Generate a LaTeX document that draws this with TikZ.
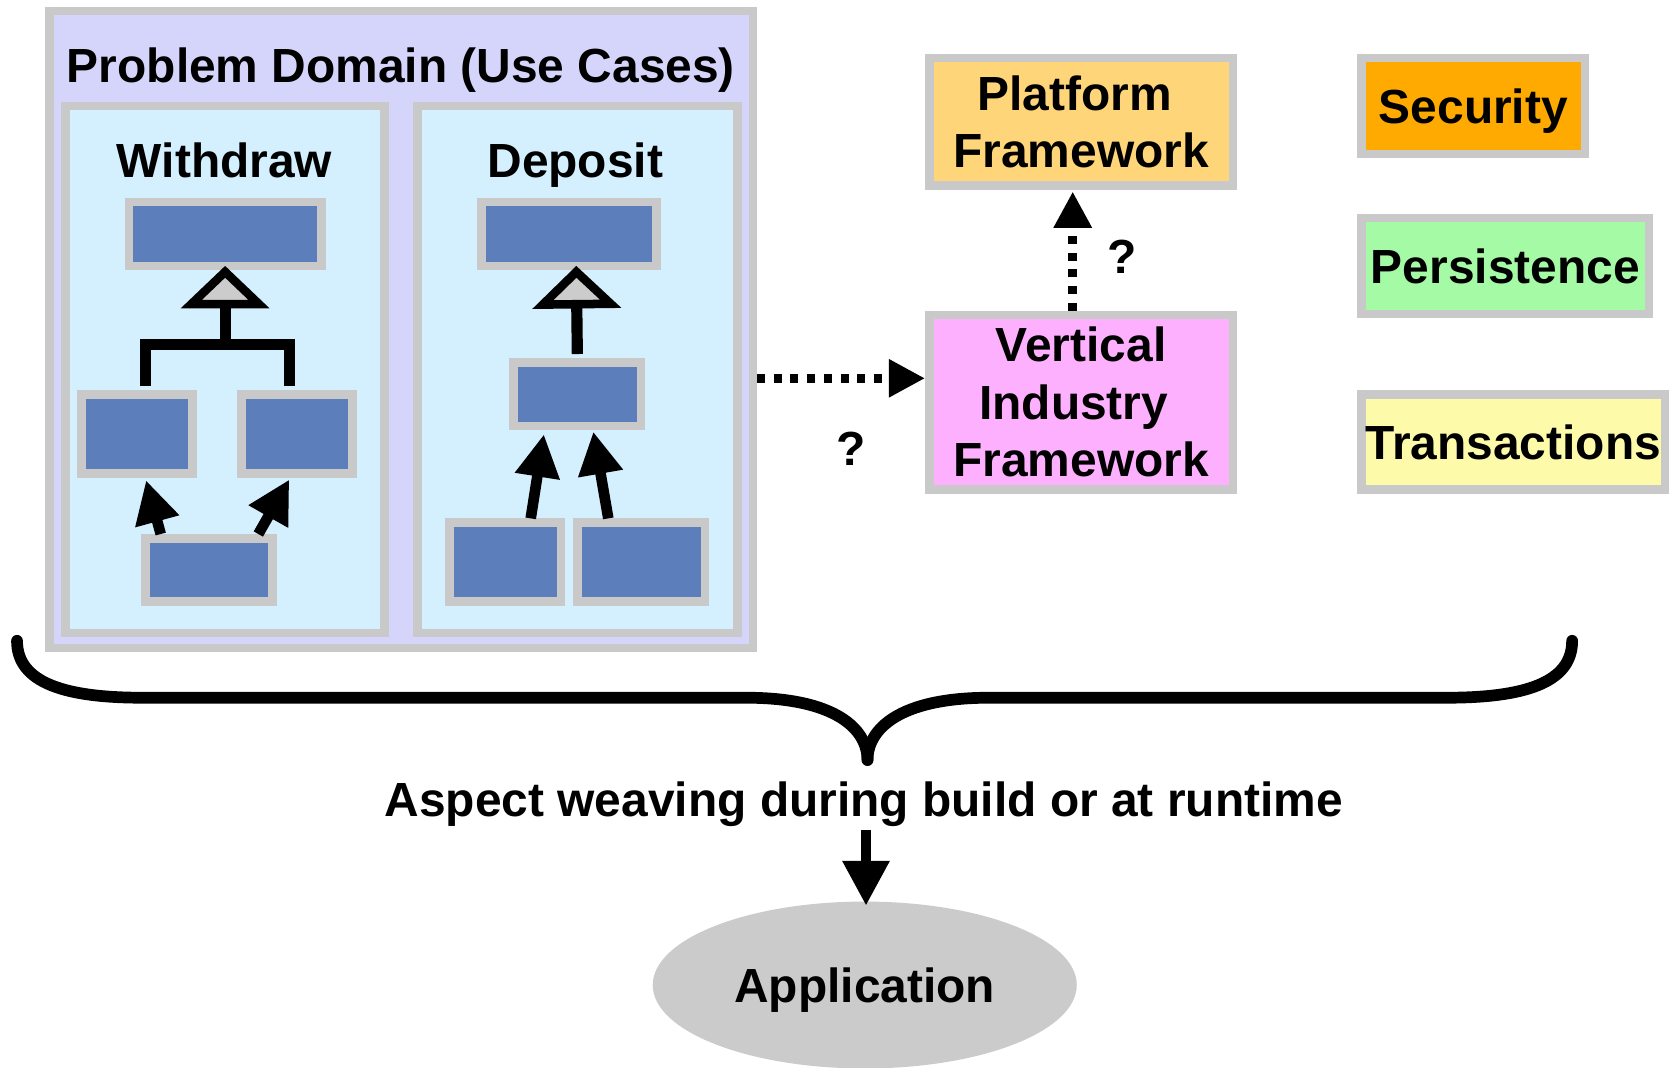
\documentclass[tikz,border=0pt]{standalone}
\usepackage{fontspec}
\setmainfont{Liberation Sans}
\usetikzlibrary{arrows.meta,shapes.geometric}
\definecolor{bgray}{HTML}{C9C9C9}
\definecolor{pdfill}{HTML}{D5D5FC}
\definecolor{panelfill}{HTML}{D4EFFD}
\definecolor{boxblue}{HTML}{5C7FBB}
\definecolor{trigray}{HTML}{CCCCCC}
\definecolor{platfill}{HTML}{FFD57A}
\definecolor{vertfill}{HTML}{FDB0FD}
\definecolor{secfill}{HTML}{FFAA00}
\definecolor{persfill}{HTML}{A5FBA5}
\definecolor{transfill}{HTML}{FDFBAA}
\definecolor{appfill}{HTML}{CBCBCB}
\begin{document}
\begin{tikzpicture}[x=1pt,y=-1pt,
  font=\fontsize{45}{54}\selectfont\bfseries,
  gbox/.style={draw=bgray, line width=8pt, inner sep=0pt, rectangle},
  ubox/.style={gbox, fill=boxblue},
  capc/.style={text height=32.2pt, text depth=0pt},
  arr/.style={line width=10pt, -{Triangle[length=40pt,width=40pt]}},
  tree/.style={line width=10.5pt},
  gen/.style={line width=10.5pt, -{Triangle[fill=trigray, line width=8pt, length=40pt, width=82pt]}},
  dotarr/.style={line width=8pt, dash pattern=on 7.5pt off 8.2pt, -{Triangle[length=34pt,width=34pt]}},
  bigarr/.style={line width=9.5pt, -{Triangle[length=42pt,width=42pt]}},
  brace/.style={line width=11pt, line cap=round}
]
\useasboundingbox[fill=white] (0,0) rectangle (1568,1003);

% Problem domain
\node[gbox, fill=pdfill, minimum width=660.9pt, minimum height=598.1pt] (pd) at (376.75,309.55) {};
\node[anchor=base] (title) at (376.7,77.3) {Problem Domain (Use Cases)};
\node[gbox, fill=panelfill, minimum width=299.7pt, minimum height=494.9pt] (wpanel) at (211.15,347.25) {};
\node[gbox, fill=panelfill, minimum width=300.5pt, minimum height=494.9pt] (dpanel) at (542.55,347.25) {};
\node[anchor=base] (wlab) at (210.9,166.6) {Withdraw};
\node[anchor=base] (dlab) at (540.5,166.6) {Deposit};

% Withdraw classes
\node[ubox, minimum width=180.6pt, minimum height=60.3pt] (wtop) at (211.7,219.85) {};
\node[ubox, minimum width=104.4pt, minimum height=74.4pt] (wl) at (128.8,407.6) {};
\node[ubox, minimum width=104.4pt, minimum height=74.4pt] (wr) at (279.2,407.6) {};
\node[ubox, minimum width=119.4pt, minimum height=59.6pt] (wb) at (196.5,535.5) {};
\coordinate (wjoin) at (211.5,324);
\draw[tree] ([xshift=8.2pt,yshift=4pt]wl.north) |- (wjoin) -| ([xshift=-7.6pt,yshift=4pt]wr.north);
\draw[gen] (wjoin) -- ([xshift=-0.2pt,yshift=4.2pt]wtop.south);
\draw[arr] ([xshift=-45.5pt]wb.north) -- ([xshift=8.4pt,yshift=-2.4pt]wl.south);
\draw[arr] ([xshift=46.2pt]wb.north) -- ([xshift=-7.4pt,yshift=-1.7pt]wr.south);

% Deposit classes
\node[ubox, minimum width=164.6pt, minimum height=60.3pt] (dtop) at (534.5,219.85) {};
\node[ubox, minimum width=119.8pt, minimum height=59.4pt] (dmid) at (542.4,370.3) {};
\node[ubox, minimum width=104.7pt, minimum height=74.3pt] (dbl) at (474.75,528.15) {};
\node[ubox, minimum width=119.8pt, minimum height=74.3pt] (dbr) at (602.5,528.15) {};
\draw[gen] ([yshift=4pt]dmid.north) -- ([xshift=6.9pt,yshift=4.2pt]dtop.south);
\draw[arr] ([xshift=23.85pt]dbl.north) -- ([xshift=-31.4pt,yshift=-4pt]dmid.south);
\draw[arr] ([xshift=-31pt]dbr.north) -- ([xshift=15pt,yshift=-1.5pt]dmid.south);

% Frameworks
\node[gbox, fill=platfill, minimum width=285.4pt, minimum height=119.8pt, align=center] (plat) at (1015.7,114.6) {Platform\kern12pt\\Framework};
\node[gbox, fill=vertfill, minimum width=285.4pt, minimum height=164.2pt, align=center] (vert) at (1015.7,378) {Vertical\\Industry\kern14pt\\Framework};
\coordinate (dstart) at ([yshift=-45.85pt]pd.east);
\draw[dotarr] (dstart) -- (dstart -| vert.west);
\draw[dotarr] ([xshift=-7.9pt]vert.north) -- ([xshift=-7.9pt,yshift=-1.5pt]plat.south);
\node[capc] (q1) at (800,420.8) {?};
\node[capc] (q2) at (1053.8,240.5) {?};

% Aspects
\node[gbox, fill=secfill, minimum width=209.9pt, minimum height=90pt, capc] (sec) at (1384.15,99.7) {Security};
\node[gbox, fill=persfill, minimum width=270.1pt, minimum height=90pt, capc] (pers) at (1414.25,250) {Persistence};
\node[gbox, fill=transfill, minimum width=284.8pt, minimum height=89.7pt, capc] (trans) at (1421.6,415.25) {Transactions};

% Brace
\draw[brace] (16,602) .. controls (16,642) and (62,655.5) .. (134,655.5) -- (701,655.5) .. controls (785,655.5) and (815,685) .. (815,714);
\draw[brace] (1477,602) .. controls (1477,642) and (1431,655.5) .. (1359,655.5) -- (929,655.5) .. controls (845,655.5) and (815,685) .. (815,714);

% Weaving and application
\node[anchor=base] (asp) at (811.5,767) {Aspect weaving during build or at runtime};
\node[ellipse, fill=appfill, inner sep=0pt, minimum width=398.4pt, minimum height=156.8pt, capc] (app) at (812.4,925.4) {Application};
\draw[bigarr] ([xshift=1.2pt]asp.south -| app.north) -- ([xshift=1.2pt,yshift=-4pt]app.north);
\end{tikzpicture}
\end{document}
